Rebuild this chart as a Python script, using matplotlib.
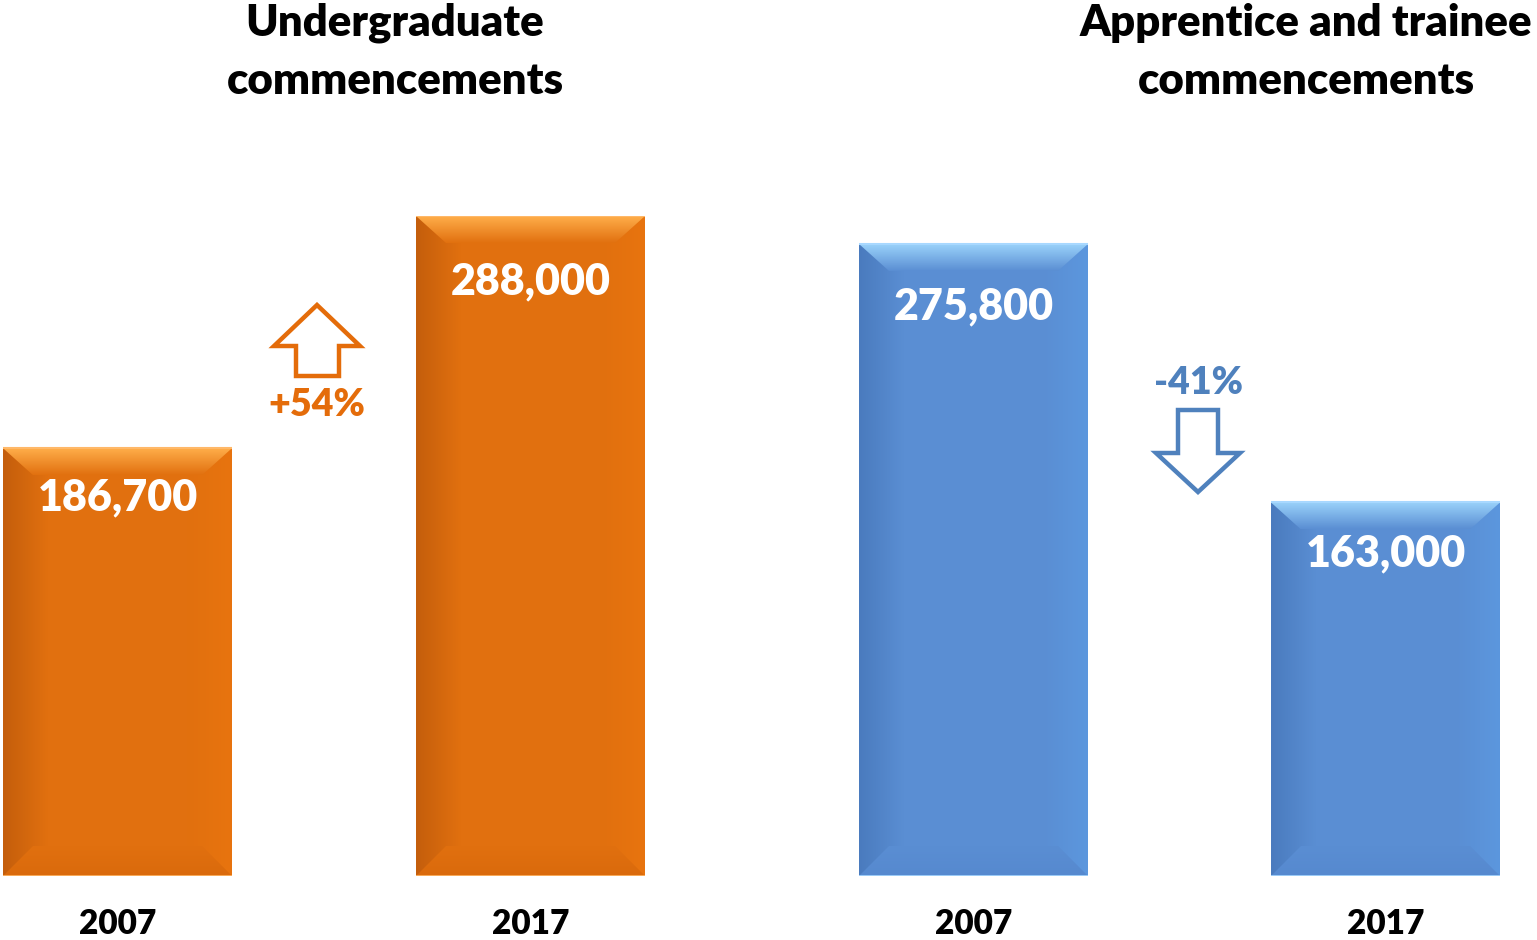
import numpy as np
import matplotlib
import matplotlib.pyplot as plt
from matplotlib.patches import Polygon
from matplotlib.colors import to_rgb

matplotlib.rc('font', family=['Lato', 'DejaVu Sans'], weight='heavy')

# data
years = ['2007', '2017', '2007', '2017']
titles = [['Undergraduate', 'commencements'], ['Apprentice and trainee', 'commencements']]
undergrad = [186700, 288000]
apprentice = [275800, 163000]
changes = ['+54%', '-41%']

ORANGE = '#E1700F'
BLUE = '#5A8ED3'
ORANGE_TXT = '#E46C0A'
BLUE_TXT = '#4F81BD'

fig = plt.figure(figsize=(15.37, 9.40), dpi=100)
# axes spans the bar area: baseline at 876px, top of tallest bar at 216px
ax = fig.add_axes([0, 64 / 940, 1, 660 / 940])
ymax = max(undergrad + apprentice)
ypp = ymax / 660.0  # data units per pixel


def py(p):
    # screen pixel row -> data y
    return (876 - p) * ypp


def grad(ax, verts, c0, c1, horizontal, ext):
    clip = Polygon(verts, closed=True, facecolor='none', edgecolor='none')
    ax.add_patch(clip)
    c0, c1 = np.array(to_rgb(c0)), np.array(to_rgb(c1))
    t = np.linspace(0, 1, 128)
    arr = c0[None, :] * (1 - t[:, None]) + c1[None, :] * t[:, None]
    if horizontal:
        arr = arr[None, :, :]
    else:
        arr = arr[:, None, :]
    im = ax.imshow(arr, extent=ext, aspect='auto', origin='upper' if not horizontal else 'lower',
                   zorder=3, interpolation='bilinear')
    im.set_clip_path(clip)


def bevel_bar(ax, x, v, w, base, top_c, left_c, right_c, bot_c, edge_c):
    bar = ax.bar(x, v, w, color=base, edgecolor='none', zorder=2)[0]
    x0, y0 = bar.get_x(), bar.get_y()
    x1, y1 = x0 + bar.get_width(), y0 + bar.get_height()
    s = 30
    t = 27 * ypp
    b = 30 * ypp
    # face: soft horizontal shading, darker on the left
    xm = x0 + 45
    grad(ax, [(x0, y0), (xm, y0), (xm, y1), (x0, y1)], left_c, base, True, (x0, xm, y0, y1))
    xr = x1 - 45
    grad(ax, [(xr, y0), (x1, y0), (x1, y1), (xr, y1)], base, right_c, True, (xr, x1, y0, y1))
    # top bevel (light to base)
    grad(ax, [(x0, y1), (x1, y1), (x1 - s, y1 - t), (x0 + s, y1 - t)], top_c, base, False,
         (x0, x1, y1 - t, y1))
    # bottom bevel
    grad(ax, [(x0, y0), (x1, y0), (x1 - s, y0 + b), (x0 + s, y0 + b)], base, bot_c, False,
         (x0, x1, y0, y0 + b))
    ax.plot([x0, x1], [y1, y1], color=edge_c, lw=1.5, zorder=4, solid_capstyle='butt')
    ax.plot([x0, x1], [y0, y0], color=edge_c, lw=1.2, zorder=4, solid_capstyle='butt')
    return bar


xs = [117.5, 530.5, 973.5, 1385.5]
label_off = [49, 65, 62, 51]
w = 229
vals = undergrad + apprentice
for i, (x, v) in enumerate(zip(xs, vals)):
    if i < 2:
        bevel_bar(ax, x, v, w, ORANGE, '#FFAE4A', '#C45E0C', '#E8740E', '#DA6A0C', '#FFB868')
    else:
        bevel_bar(ax, x, v, w, BLUE, '#9AD2FA', '#4A7BBE', '#5C97DE', '#5689CF', '#A8D8FF')
    ax.text(x, v - label_off[i] * ypp, f'{v:,}', ha='center', va='center', color='white',
            fontsize=31, zorder=5)
    ax.text(x, py(924), years[i], ha='center', va='center', color='black', fontsize=24)

# group titles
for cx, lines in zip([395, 1306], titles):
    for k, ln in enumerate(lines):
        ax.text(cx, py(23 + 58 * k), ln, ha='center', va='center', color='black', fontsize=31.5)

# change arrows
up = [(317, 305), (360, 346), (339, 346), (339, 376), (296, 376), (296, 346), (274, 346)]
ax.add_patch(Polygon([(px, py(q)) for px, q in up], closed=True, facecolor='white',
                     edgecolor=ORANGE_TXT, lw=3.2, joinstyle='miter', zorder=3))
ax.text(317, py(405), changes[0], ha='center', va='center', color=ORANGE_TXT, fontsize=27)

dn = [(1178, 410), (1218, 410), (1218, 453), (1240, 453), (1198, 492), (1156, 453), (1178, 453)]
ax.add_patch(Polygon([(px, py(q)) for px, q in dn], closed=True, facecolor='white',
                     edgecolor=BLUE_TXT, lw=3.2, joinstyle='miter', zorder=3))
ax.text(1198, py(383), changes[1], ha='center', va='center', color=BLUE_TXT, fontsize=27)

ax.set_xlim(0, 1537)
ax.set_ylim(0, ymax)
ax.axis('off')

fig.savefig('out.png', dpi=100, facecolor='white')
